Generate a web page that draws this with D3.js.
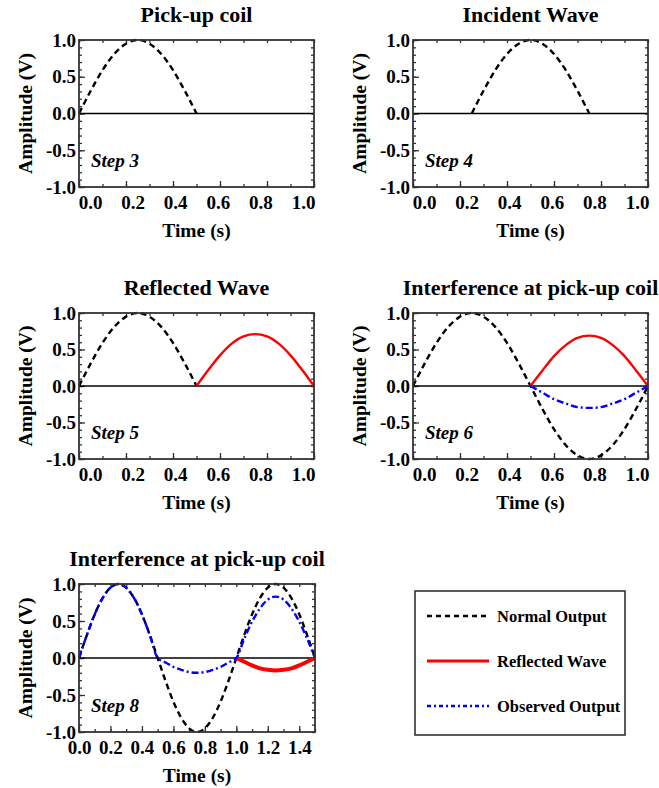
<!DOCTYPE html>
<html>
<head>
<meta charset="utf-8">
<script src="https://cdnjs.cloudflare.com/ajax/libs/d3/7.8.5/d3.min.js"></script>
<style>
  body { margin: 0; background: #fff; }
  svg text { font-family: "Liberation Serif", "Times New Roman", serif; font-weight: bold; fill: #000; }
</style>
</head>
<body>
<div id="chart"></div>
<script>
// titulos y etiquetas de cada panel
const panelTitles = ["Pick-up coil", "Incident Wave", "Reflected Wave", "Interference at pick-up coil", "Interference at pick-up coil"];
const stepLabels = ["Step 3", "Step 4", "Step 5", "Step 6", "Step 8"];
const yTicks = [-1.0, -0.5, 0.0, 0.5, 1.0];
const xTicksShort = [0.0, 0.2, 0.4, 0.6, 0.8, 1.0];
const xTicksLong = [0.0, 0.2, 0.4, 0.6, 0.8, 1.0, 1.2, 1.4];
const legendLabels = ["Normal Output", "Reflected Wave", "Observed Output"];

// valores (cada 0.05 s)
const tHalfA = [0, 0.05, 0.1, 0.15, 0.2, 0.25, 0.3, 0.35, 0.4, 0.45, 0.5];
const tHalfB = [0.25, 0.3, 0.35, 0.4, 0.45, 0.5, 0.55, 0.6, 0.65, 0.7, 0.75];
const tHalfC = [0.5, 0.55, 0.6, 0.65, 0.7, 0.75, 0.8, 0.85, 0.9, 0.95, 1.0];
const tHalfD = [1.0, 1.05, 1.1, 1.15, 1.2, 1.25, 1.3, 1.35, 1.4, 1.45, 1.5];
const tFull = [0, 0.05, 0.1, 0.15, 0.2, 0.25, 0.3, 0.35, 0.4, 0.45, 0.5, 0.55, 0.6, 0.65, 0.7, 0.75, 0.8, 0.85, 0.9, 0.95, 1.0];
const tLong = [0, 0.05, 0.1, 0.15, 0.2, 0.25, 0.3, 0.35, 0.4, 0.45, 0.5, 0.55, 0.6, 0.65, 0.7, 0.75, 0.8, 0.85, 0.9, 0.95, 1.0,
               1.05, 1.1, 1.15, 1.2, 1.25, 1.3, 1.35, 1.4, 1.45, 1.5];

const pulseUp = [0, 0.31, 0.59, 0.81, 0.95, 1.0, 0.95, 0.81, 0.59, 0.31, 0];
const normalFull = [0, 0.31, 0.59, 0.81, 0.95, 1.0, 0.95, 0.81, 0.59, 0.31, 0, -0.31, -0.59, -0.81, -0.95, -1.0, -0.95, -0.81, -0.59, -0.31, 0];
const normalLong = [0, 0.31, 0.59, 0.81, 0.95, 1.0, 0.95, 0.81, 0.59, 0.31, 0, -0.31, -0.59, -0.81, -0.95, -1.0, -0.95, -0.81, -0.59, -0.31, 0,
                    0.31, 0.59, 0.81, 0.95, 1.0, 0.95, 0.81, 0.59, 0.31, 0];
const reflectedStep5 = [0, 0.22, 0.42, 0.58, 0.68, 0.71, 0.68, 0.58, 0.42, 0.22, 0];
const reflectedStep6 = [0, 0.21, 0.41, 0.56, 0.66, 0.69, 0.66, 0.56, 0.41, 0.21, 0];
const observedStep6 = [0, -0.09, -0.18, -0.24, -0.29, -0.30, -0.29, -0.24, -0.18, -0.09, 0];
const observedStep8 = [0, 0.31, 0.59, 0.81, 0.95, 1.0, 0.95, 0.81, 0.59, 0.31, 0, -0.06, -0.12, -0.16, -0.19, -0.2, -0.19, -0.16, -0.12, -0.06, 0,
                       0.26, 0.49, 0.67, 0.79, 0.83, 0.79, 0.67, 0.49, 0.26, 0];
const reflectedStep8 = [0, -0.05, -0.1, -0.14, -0.16, -0.17, -0.16, -0.14, -0.1, -0.05, 0];

const styles = {
  normal: { color: "#000", width: 2.4, dash: "6,4" },
  reflected: { color: "#ff0000", width: 2.4, dash: null },
  reflectedThick: { color: "#ff0000", width: 4, dash: null },
  observed: { color: "#0000ff", width: 2.4, dash: "7,3,2,3" }
};

const width = 659, height = 788;
const svg = d3.select("#chart").append("svg")
  .attr("width", width)
  .attr("height", height);

// inset: las etiquetas del eje x en el original estan algo comprimidas hacia adentro
const panels = [
  { box: [79, 40, 314, 187], xMax: 1.0, xTicks: xTicksShort, inset: 11,
    series: [{ t: tHalfA, v: pulseUp, s: "normal" }] },
  { box: [413, 40, 648, 187], xMax: 1.0, xTicks: xTicksShort, inset: 11,
    series: [{ t: tHalfB, v: pulseUp, s: "normal" }] },
  { box: [79, 313, 314, 459], xMax: 1.0, xTicks: xTicksShort, inset: 11,
    series: [{ t: tHalfA, v: pulseUp, s: "normal" }, { t: tHalfC, v: reflectedStep5, s: "reflected" }] },
  { box: [413, 313, 648, 459], xMax: 1.0, xTicks: xTicksShort, inset: 11,
    series: [{ t: tFull, v: normalFull, s: "normal" }, { t: tHalfC, v: reflectedStep6, s: "reflected" },
             { t: tHalfC, v: observedStep6, s: "observed" }] },
  { box: [79, 584, 315, 732], xMax: 1.5, xTicks: xTicksLong, inset: 0,
    series: [{ t: tLong, v: normalLong, s: "normal" }, { t: tHalfD, v: reflectedStep8, s: "reflectedThick" },
             { t: tLong, v: observedStep8, s: "observed" }] }
];

panels.forEach((p, i) => {
  const [x0, y0, x1, y1] = p.box;
  const x = d3.scaleLinear([0, p.xMax], [x0, x1]);
  const xLab = d3.scaleLinear([0, p.xMax], [x0 + p.inset, x1 - p.inset]);
  const y = d3.scaleLinear([-1, 1], [y1, y0]);
  const g = svg.append("g");

  // ticks menores (hacia adentro, en los cuatro lados)
  const xMinor = d3.range(0, p.xMax + 0.001, 0.1);
  const yMinor = d3.range(-1, 1.001, 0.1);
  g.append("g").attr("transform", `translate(0,${y1})`)
    .call(d3.axisBottom(x).tickValues(xMinor).tickSize(-3).tickFormat(""))
    .call(a => a.select(".domain").remove());
  g.append("g").attr("transform", `translate(0,${y0})`)
    .call(d3.axisTop(x).tickValues(xMinor).tickSize(-3).tickFormat(""))
    .call(a => a.select(".domain").remove());
  g.append("g").attr("transform", `translate(${x0},0)`)
    .call(d3.axisLeft(y).tickValues(yMinor).tickSize(-3).tickFormat(""))
    .call(a => a.select(".domain").remove());
  g.append("g").attr("transform", `translate(${x1},0)`)
    .call(d3.axisRight(y).tickValues(yMinor).tickSize(-3).tickFormat(""))
    .call(a => a.select(".domain").remove());

  // ejes principales
  g.append("g").attr("transform", `translate(0,${y1})`)
    .call(d3.axisBottom(x).tickValues(p.xTicks).tickSize(-6).tickFormat(""))
    .call(a => a.select(".domain").remove());
  g.append("g").attr("class", "x-axis").attr("transform", `translate(0,${y1})`)
    .call(d3.axisBottom(xLab).tickValues(p.xTicks).tickSize(0).tickPadding(9).tickFormat(d3.format(".1f")))
    .call(a => a.select(".domain").remove());
  g.append("g").attr("class", "y-axis").attr("transform", `translate(${x0},0)`)
    .call(d3.axisLeft(y).tickValues(yTicks).tickSize(-6).tickPadding(3).tickFormat(d => d3.format(".1f")(d).replace("−", "-")))
    .call(a => a.select(".domain").remove());
  g.selectAll(".tick line").attr("stroke", "#333").attr("stroke-width", 1.3);
  g.selectAll(".x-axis text").style("font-size", "19px").attr("dy", "0.68em");
  g.selectAll(".y-axis text").style("font-size", "19px");

  // linea de cero
  g.append("line")
    .attr("x1", x(0)).attr("x2", x(p.xMax))
    .attr("y1", y(0)).attr("y2", y(0))
    .attr("stroke", "#000").attr("stroke-width", 1.6);

  // series
  const line = d3.line()
    .x(d => x(d[0]))
    .y(d => y(d[1]))
    .curve(d3.curveMonotoneX);
  p.series.forEach(s => {
    const st = styles[s.s];
    g.append("path")
      .datum(s.t.map((t, k) => [t, s.v[k]]))
      .attr("fill", "none")
      .attr("stroke", st.color)
      .attr("stroke-width", st.width)
      .attr("stroke-dasharray", st.dash)
      .attr("d", line);
  });

  // marco
  g.append("rect")
    .attr("x", x0).attr("y", y0)
    .attr("width", x1 - x0).attr("height", y1 - y0)
    .attr("fill", "none").attr("stroke", "#333").attr("stroke-width", 1.8);

  // textos
  g.append("text")
    .attr("x", (x0 + x1) / 2).attr("y", y0 - 18)
    .attr("text-anchor", "middle")
    .style("font-size", "22px")
    .text(panelTitles[i]);
  g.append("text")
    .attr("x", (x0 + x1) / 2).attr("y", y1 + 50)
    .attr("text-anchor", "middle")
    .style("font-size", "19.5px")
    .text("Time (s)");
  g.append("text")
    .attr("transform", `translate(${x0 - 47},${(y0 + y1) / 2}) rotate(-90)`)
    .attr("text-anchor", "middle")
    .style("font-size", "19.5px")
    .text("Amplitude (V)");
  g.append("text")
    .attr("x", x0 + 12).attr("y", y1 - 20)
    .style("font-size", "19px")
    .style("font-style", "italic")
    .text(stepLabels[i]);
});

// leyenda
const legend = svg.append("g");
legend.append("rect")
  .attr("x", 415).attr("y", 591)
  .attr("width", 210).attr("height", 144)
  .attr("fill", "none").attr("stroke", "#333").attr("stroke-width", 1.6);
const legendStyles = [styles.normal, styles.reflected, styles.observed];
legendLabels.forEach((lab, i) => {
  const ly = 616 + i * 45;
  const st = legendStyles[i];
  legend.append("line")
    .attr("x1", 427).attr("x2", 489)
    .attr("y1", ly).attr("y2", ly)
    .attr("stroke", st.color)
    .attr("stroke-width", i === 1 ? 3 : 2.6)
    .attr("stroke-dasharray", i === 0 ? "5,4" : i === 2 ? "4,3,2,3" : null);
  legend.append("text")
    .attr("x", 497).attr("y", ly)
    .attr("dy", "0.35em")
    .style("font-size", "16.5px")
    .text(lab);
});
</script>
</body>
</html>
